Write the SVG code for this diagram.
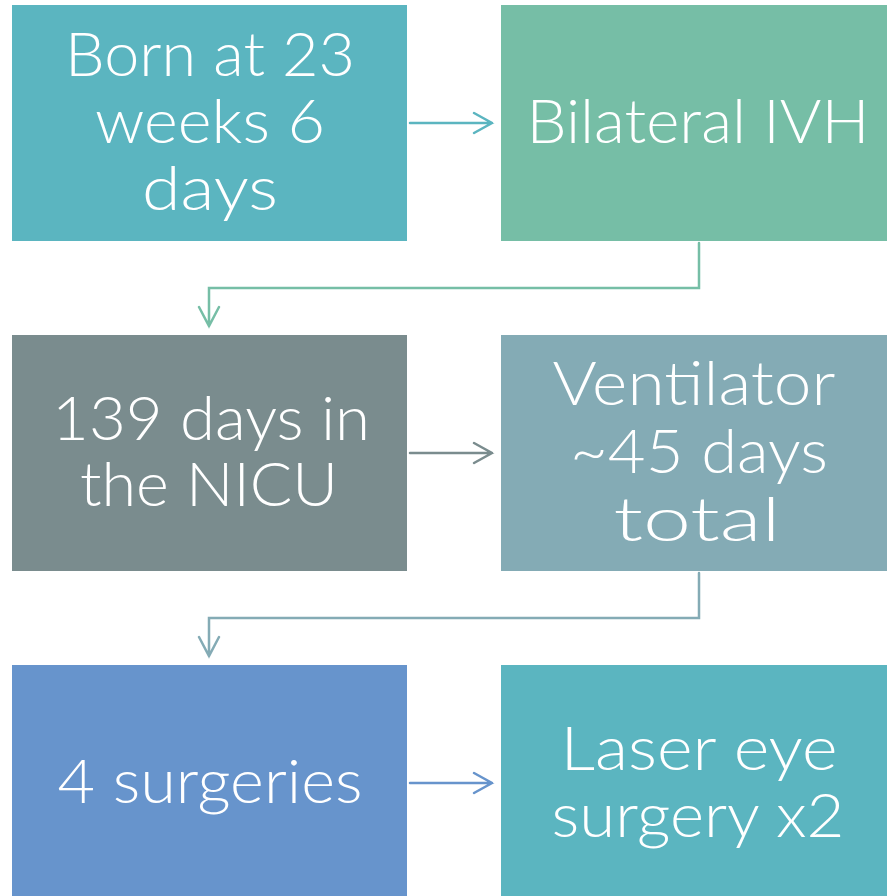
<svg xmlns="http://www.w3.org/2000/svg" width="887" height="896" viewBox="0 0 887 896">
<style>
.t{font-family:"Century Gothic","Lato","Liberation Sans",sans-serif;font-size:61px;font-weight:300;fill:#fff;text-anchor:middle}
.c{fill:none;stroke-width:2.5;stroke-linecap:round;stroke-linejoin:miter}
</style>
<rect width="887" height="896" fill="#fff"/>
<g id="connectors">
<path class="c" stroke="#5BB5C0" d="M410 123H492M474 113L492 123L474 133"/>
<path class="c" stroke="#76BEA6" d="M699 243V288H209V326M199 307L209 326L219 307"/>
<path class="c" stroke="#7A8C8E" d="M410 453H492M474 443L492 453L474 463"/>
<path class="c" stroke="#84ABB5" d="M699 573V618H209V656M199 637L209 656L219 637"/>
<path class="c" stroke="#6794CC" d="M410 783H492M474 773L492 783L474 793"/>
</g>
<g id="n1">
<rect x="12" y="5" width="395" height="236" fill="#5BB5C0"/>
<text class="t" x="210" y="76" textLength="290" lengthAdjust="spacingAndGlyphs">Born at 23</text>
<text class="t" x="210" y="143" textLength="230" lengthAdjust="spacingAndGlyphs">weeks 6</text>
<text class="t" x="210" y="210" textLength="136" lengthAdjust="spacingAndGlyphs">days</text>
</g>
<g id="n2">
<rect x="501" y="5" width="395" height="236" fill="#76BEA6"/>
<text class="t" x="698" y="143" textLength="343" lengthAdjust="spacingAndGlyphs">Bilateral IVH</text>
</g>
<g id="n3">
<rect x="12" y="335" width="395" height="236" fill="#7A8C8E"/>
<text class="t" x="211" y="440" textLength="318" lengthAdjust="spacingAndGlyphs">139 days in</text>
<text class="t" x="209" y="506" textLength="258" lengthAdjust="spacingAndGlyphs">the NICU</text>
</g>
<g id="n4">
<rect x="501" y="335" width="395" height="236" fill="#84ABB5"/>
<text class="t" x="694" y="405" textLength="283" lengthAdjust="spacingAndGlyphs">Ventilator</text>
<text class="t" x="699" y="473" textLength="258" lengthAdjust="spacingAndGlyphs">~45 days</text>
<text class="t" x="697" y="541" textLength="167" lengthAdjust="spacingAndGlyphs">total</text>
</g>
<g id="n5">
<rect x="12" y="665" width="395" height="236" fill="#6794CC"/>
<text class="t" x="210" y="803" textLength="305" lengthAdjust="spacingAndGlyphs">4 surgeries</text>
</g>
<g id="n6">
<rect x="501" y="665" width="395" height="236" fill="#5BB5C0"/>
<text class="t" x="699" y="770" textLength="277" lengthAdjust="spacingAndGlyphs">Laser eye</text>
<text class="t" x="698" y="837" textLength="293" lengthAdjust="spacingAndGlyphs">surgery x2</text>
</g>
</svg>
